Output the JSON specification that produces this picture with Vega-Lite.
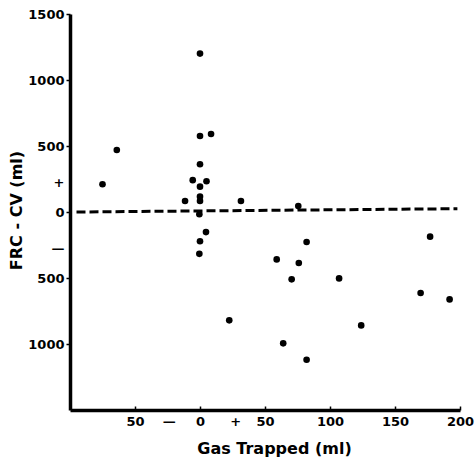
{
  "$schema": "https://vega.github.io/schema/vega-lite/v6.json",
  "width": 390,
  "height": 396,
  "autosize": {"type": "none"},
  "padding": {"left": 70, "top": 14, "right": 16, "bottom": 48},
  "background": "white",
  "config": {
    "view": {"stroke": null},
    "font": "DejaVu Sans",
    "axis": {
      "grid": false,
      "domainColor": "black",
      "domainWidth": 3.5,
      "tickColor": "black",
      "tickWidth": 1.5,
      "labelColor": "black",
      "labelFont": "DejaVu Sans",
      "labelFontWeight": "bold",
      "labelFontSize": 13,
      "titleFont": "DejaVu Sans",
      "titleFontWeight": "bold",
      "titleFontSize": 16,
      "titleColor": "black"
    }
  },
  "datasets": {
    "points": [
      {"gas": -75, "diff": 210},
      {"gas": -64, "diff": 470},
      {"gas": 0, "diff": 1200},
      {"gas": 0, "diff": 576},
      {"gas": 8.5, "diff": 591},
      {"gas": 0, "diff": 362},
      {"gas": -5.6, "diff": 241},
      {"gas": 5, "diff": 233},
      {"gas": 0, "diff": 192},
      {"gas": 0, "diff": 116},
      {"gas": 0, "diff": 83},
      {"gas": -11.5, "diff": 83},
      {"gas": 31.5, "diff": 83},
      {"gas": -0.5, "diff": -17},
      {"gas": 4.6, "diff": -152},
      {"gas": 0, "diff": -222},
      {"gas": -0.5, "diff": -317},
      {"gas": 22.5, "diff": -821},
      {"gas": 75.6, "diff": 45},
      {"gas": 82, "diff": -227},
      {"gas": 177, "diff": -187},
      {"gas": 59, "diff": -359},
      {"gas": 76, "diff": -386},
      {"gas": 70.5, "diff": -510},
      {"gas": 107, "diff": -503},
      {"gas": 169.7, "diff": -614},
      {"gas": 192, "diff": -662},
      {"gas": 124, "diff": -859},
      {"gas": 64, "diff": -995},
      {"gas": 82, "diff": -1119}
    ],
    "line": [
      {"gas": -95, "diff": 0},
      {"gas": 198, "diff": 25}
    ]
  },
  "layer": [
    {
      "data": {"name": "line"},
      "mark": {"type": "line", "color": "black", "strokeWidth": 3, "strokeDash": [9, 4]},
      "encoding": {
        "x": {"field": "gas", "type": "quantitative"},
        "y": {"field": "diff", "type": "quantitative"}
      }
    },
    {
      "data": {"name": "points"},
      "mark": {"type": "circle", "color": "black", "opacity": 1, "size": 44},
      "encoding": {
        "x": {
          "field": "gas",
          "type": "quantitative",
          "scale": {"domain": [-100, 200], "nice": false, "zero": false},
          "axis": {
            "title": "Gas Trapped (ml)",
            "values": [-50, -24, 0, 27, 50, 100, 150, 200],
            "labelExpr": "datum.value == -24 ? '—' : datum.value == 27 ? '+' : format(abs(datum.value), 'd')",
            "tickSize": -4,
            "tickOpacity": {"condition": {"test": "datum.value == -24 || datum.value == 27", "value": 0}, "value": 1},
            "labelPadding": 9,
            "labelFlush": false,
            "labelOverlap": false,
            "titleX": 204,
            "titleY": 30
          }
        },
        "y": {
          "field": "diff",
          "type": "quantitative",
          "scale": {"domain": [-1500, 1500], "nice": false, "zero": false},
          "axis": {
            "title": "FRC - CV (ml)",
            "values": [1500, 1000, 500, 220, 0, -280, -500, -1000],
            "labelExpr": "datum.value == 220 ? '+' : datum.value == -280 ? '—' : format(abs(datum.value), 'd')",
            "tickSize": 4,
            "tickOpacity": {"condition": {"test": "datum.value == 220 || datum.value == -280", "value": 0}, "value": 1},
            "labelPadding": 2,
            "labelFlush": false,
            "labelOverlap": false,
            "titleX": -46,
            "titleY": 196
          }
        }
      }
    }
  ]
}
